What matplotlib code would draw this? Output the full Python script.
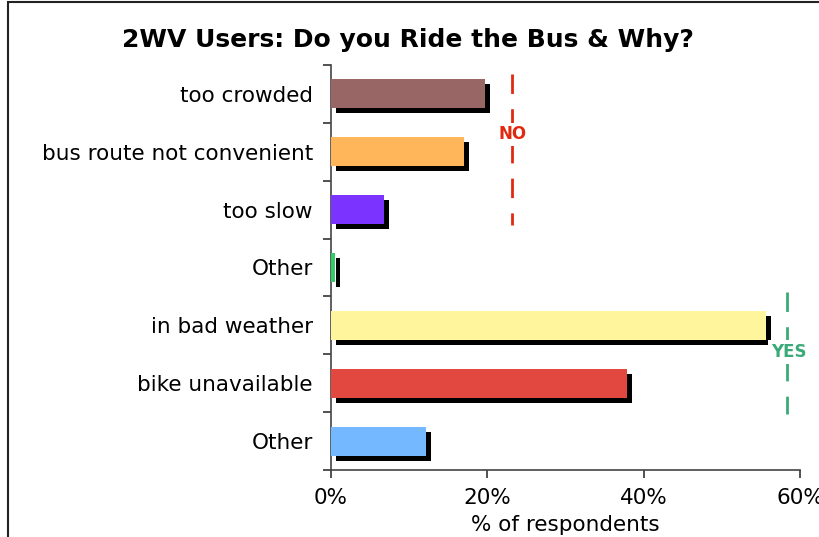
import matplotlib
matplotlib.use("Agg")
import matplotlib.pyplot as plt
import matplotlib.transforms as mtransforms
from matplotlib.patches import Rectangle
import numpy as np

# data (top to bottom)
labels = ['too crowded', 'bus route not convenient', 'too slow', 'Other',
          'in bad weather', 'bike unavailable', 'Other']
values = [19.7, 17.0, 6.8, 0.5, 55.7, 37.9, 12.1]
colors = ['#996666', '#FFB55A', '#7B33FF', '#33CC66',
          '#FFF59D', '#E34840', '#74B8FF']
xticks = [0, 20, 40, 60]

fig = plt.figure(figsize=(8.2, 5.37), dpi=100)
ax = fig.add_axes([0.4037, 0.1248, 0.5719, 0.7542])

y = np.arange(len(labels))

# black drop shadow, offset a few px right / down
shadow = mtransforms.offset_copy(ax.transData, fig=fig, x=5, y=-5, units='dots')
ax.barh(y, values, height=0.5, color='black', transform=shadow, zorder=2)
ax.barh(y, values, height=0.5, color=colors, zorder=3)

ax.set_ylim(len(labels) - 0.5, -0.5)
ax.set_xlim(0, 60)
ax.set_yticks(y)
ax.set_yticklabels(labels, fontsize=15.5)
ax.set_yticks(np.arange(len(labels) + 1) - 0.5, minor=True)
ax.tick_params(axis='y', which='major', length=0, pad=13)
ax.tick_params(axis='y', which='minor', length=6, width=1.2, color='#333333')
ax.set_xticks(xticks)
ax.set_xticklabels([f'{t}%' for t in xticks], fontsize=15.5)
ax.tick_params(axis='x', length=6, width=1.2, color='#333333', pad=7)
ax.set_xlabel('% of respondents', fontsize=15.5, labelpad=5)

for s in ['top', 'right']:
    ax.spines[s].set_visible(False)
for s in ['left', 'bottom']:
    ax.spines[s].set_color('#444444')
    ax.spines[s].set_linewidth(1.2)

# NO / YES markers
ax.plot([23.1, 23.1], [-0.35, 2.27], color='#E02A10', lw=2,
        dashes=(7, 5.5), clip_on=False, zorder=4)
ax.text(23.2, 0.70, 'NO', color='#E02A10', fontsize=12, fontweight='bold',
        ha='center', va='center', zorder=5,
        bbox=dict(facecolor='white', edgecolor='none', pad=2))
ax.plot([58.3, 58.3], [3.42, 5.54], color='#3AAA78', lw=2,
        dashes=(7, 5.5), clip_on=False, zorder=4)
ax.text(58.6, 4.46, 'YES', color='#3AAA78', fontsize=12, fontweight='bold',
        ha='center', va='center', zorder=5, clip_on=False,
        bbox=dict(facecolor='white', edgecolor='none', pad=2))

fig.text(0.497, 0.925, '2WV Users: Do you Ride the Bus & Why?',
         ha='center', va='center', fontsize=18, fontweight='bold')

# outer chart frame
fig.patches.append(Rectangle((8 / 820, -0.1), 1.2, 1.1 - 2 / 537,
                             transform=fig.transFigure, fill=False,
                             edgecolor='#222222', lw=1.5, clip_on=False))

fig.savefig('out.png', dpi=100)
